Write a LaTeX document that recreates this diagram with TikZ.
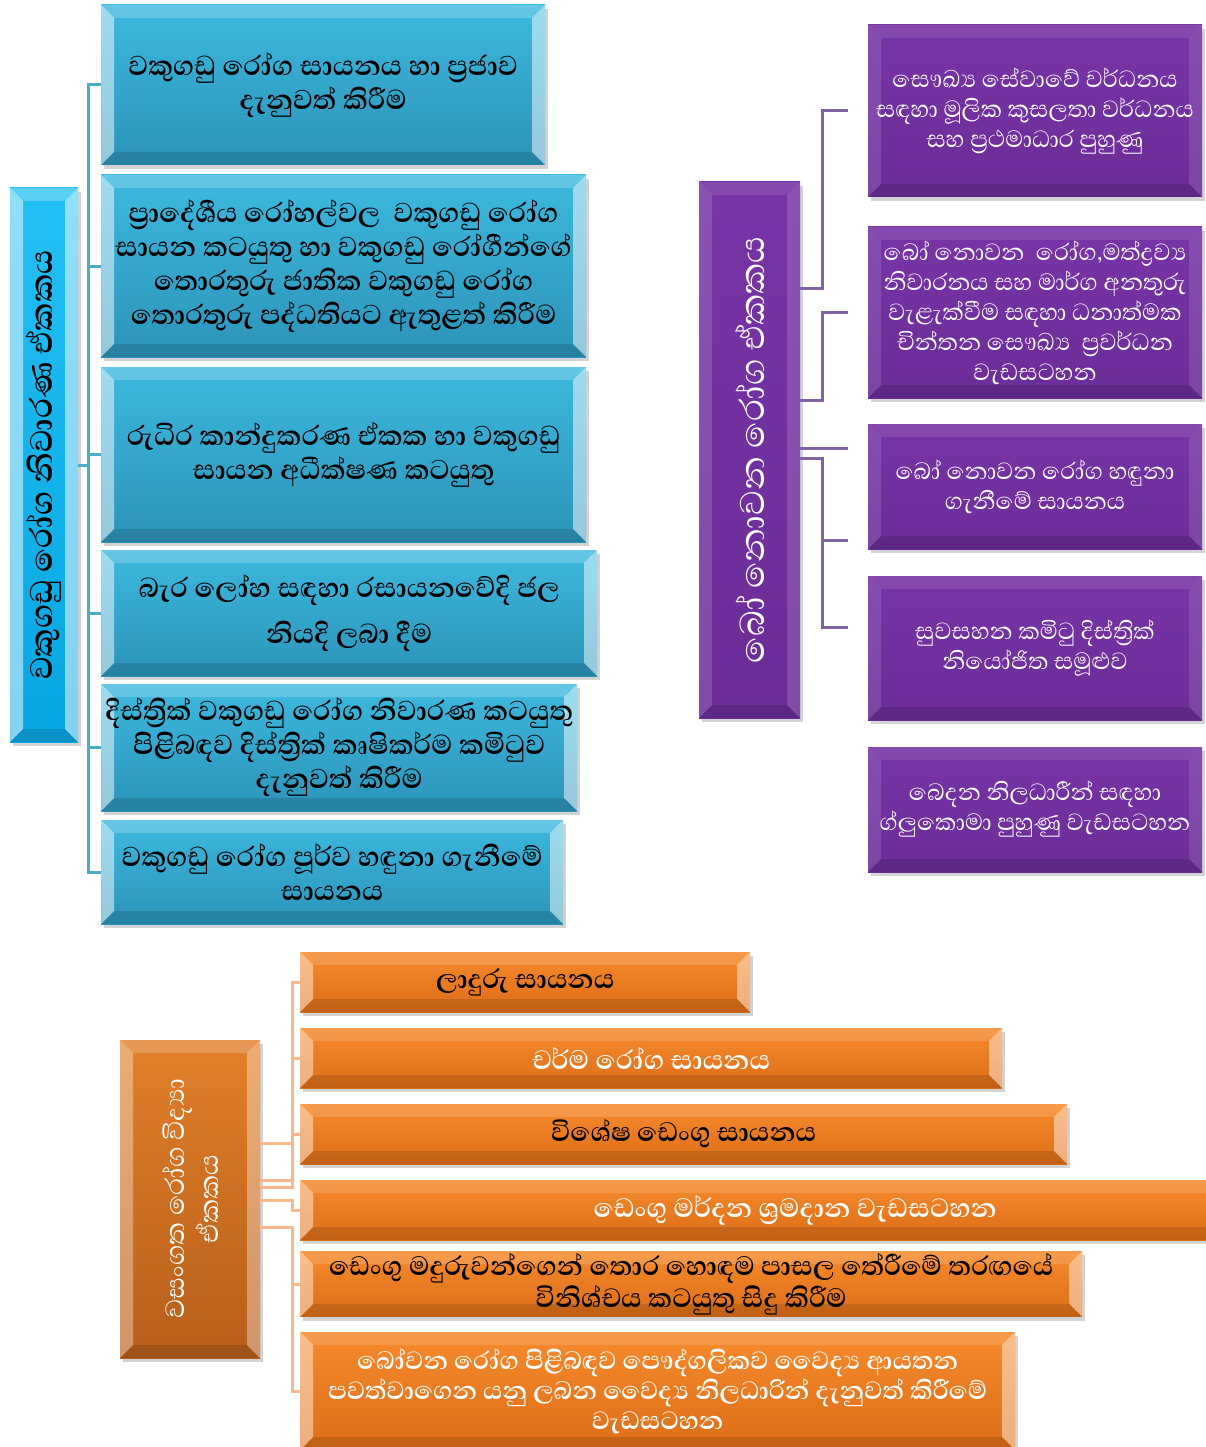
\documentclass[tikz,border=0pt]{standalone}
\usepackage{fontspec}
\newfontfamily\sinfont[Script=Sinhala]{Abhaya Libre}
\usetikzlibrary{shadows}

\definecolor{kidtop}{HTML}{3DB9DF}
\definecolor{kidbot}{HTML}{2C93B8}
\definecolor{kroottop}{HTML}{22C0F4}
\definecolor{krootbot}{HTML}{08A6E2}
\definecolor{klinecol}{HTML}{4BACC6}
\definecolor{nkidtop}{HTML}{7734A6}
\definecolor{nkidbot}{HTML}{6B2D98}
\definecolor{nlinecol}{HTML}{8064A2}
\definecolor{ekidtop}{HTML}{F68A2C}
\definecolor{ekidbot}{HTML}{DC6E18}
\definecolor{eroottop}{HTML}{E2802A}
\definecolor{erootbot}{HTML}{B65E1A}
\definecolor{elinecol}{HTML}{F9B78C}

\tikzset{
  bevel/.style 2 args={path picture={
    \fill[white, opacity=#2] (path picture bounding box.north west) -- (path picture bounding box.north east)
      -- ([shift={(-13pt,-13pt)}]path picture bounding box.north east) -- ([shift={(13pt,-13pt)}]path picture bounding box.north west) -- cycle;
    \fill[white, opacity=#1] (path picture bounding box.north west) -- (path picture bounding box.south west)
      -- ([shift={(13pt,13pt)}]path picture bounding box.south west) -- ([shift={(13pt,-13pt)}]path picture bounding box.north west) -- cycle;
    \fill[white, opacity=#1] (path picture bounding box.north east) -- (path picture bounding box.south east)
      -- ([shift={(-13pt,13pt)}]path picture bounding box.south east) -- ([shift={(-13pt,-13pt)}]path picture bounding box.north east) -- cycle;
    \fill[black, opacity=.12] (path picture bounding box.south west) -- (path picture bounding box.south east)
      -- ([shift={(-13pt,13pt)}]path picture bounding box.south east) -- ([shift={(13pt,13pt)}]path picture bounding box.south west) -- cycle;
  }},
}

\begin{document}
\begin{tikzpicture}[x=1pt, y=-1pt,
  base/.style={inner sep=2pt, align=center, drop shadow={shadow xshift=3pt, shadow yshift=-4pt, opacity=.35}},
  kidbox/.style={base, top color=kidtop, bottom color=kidbot, bevel={.5}{.2}, anchor=west,
    font=\sinfont\bfseries\fontsize{35}{34}\selectfont, text=black},
  kroot/.style={base, top color=kroottop, bottom color=krootbot, bevel={.5}{.25},
    minimum width=68pt, minimum height=554pt},
  nkidbox/.style={base, top color=nkidtop, bottom color=nkidbot, bevel={.12}{.1},
    minimum width=334pt, font=\sinfont\fontsize{30}{30}\selectfont, text=white},
  nroot/.style={base, top color=nkidtop, bottom color=nkidbot, bevel={.15}{.1},
    minimum width=101pt, minimum height=536pt},
  ekidbox/.style={base, top color=ekidtop, bottom color=ekidbot, bevel={.45}{.15}, anchor=west,
    minimum height=60pt, font=\sinfont\bfseries\fontsize{34}{32}\selectfont},
  eroot/.style={base, top color=eroottop, bottom color=erootbot, bevel={.35}{.2},
    minimum width=140pt, minimum height=318pt},
  rtext/.style={rotate=90, align=center},
  kconn/.style={draw=klinecol, line width=3pt},
  nconn/.style={draw=nlinecol, line width=3pt},
  econn/.style={draw=elinecol, line width=3pt}
]
\useasboundingbox (0,0) rectangle (1206,1447);

% kidney unit
\node[kroot, label={[rtext, font=\sinfont\bfseries\fontsize{40}{40}\selectfont, text=black]center:{වකුගඩු රෝග නිවාරණ ඒකකය}}] (kroot) at (44,465) {};
\node[kidbox, minimum width=444pt, minimum height=160pt] (kid1) at (101,85)
  {වකුගඩු රෝග සායනය හා ප්^^^^200dරජාව\\දැනුවත් කිරීම};
\node[kidbox, minimum width=485pt, minimum height=182pt] (kid2) at (101,266)
  {ප්^^^^200dරාදේශීය රෝහල්වල \ වකුගඩු රෝග\\සායන කටයුතු හා වකුගඩු රෝගීන්ගේ\\තොරතුරු ජාතික වකුගඩු රෝග\\තොරතුරු පද්ධතියට ඇතුළත් කිරීම};
\node[kidbox, minimum width=485pt, minimum height=175pt] (kid3) at (101,454.5)
  {රුධිර කාන්දුකරණ ඒකක හා වකුගඩු\\සායන අධීක්ෂණ කටයුතු};
\node[kidbox, minimum width=496pt, minimum height=126pt, font=\sinfont\bfseries\fontsize{35}{46}\selectfont] (kid4) at (101,613)
  {බැර ලෝහ සඳහා රසායනවේදි ජල\\නියදි ලබා දීම};
\node[kidbox, minimum width=476pt, minimum height=127pt] (kid5) at (101,747.5)
  {දිස්ත්^^^^200dරික් වකුගඩු රෝග නිවාරණ කටයුතු\\පිළිබඳව දිස්ත්^^^^200dරික් කෘෂිකර්ම කමිටුව\\දැනුවත් කිරීම};
\node[kidbox, minimum width=462pt, minimum height=104pt] (kid6) at (101,872)
  {වකුගඩු රෝග පූර්ව හඳුනා ගැනීමේ\\සායනය};
\foreach \k in {1,...,6}
  \draw[kconn] (kroot.east) -- ++(10,0) |- (kid\k.west);

% non-communicable disease unit
\node[nroot, label={[rtext, font=\sinfont\fontsize{44}{44}\selectfont, text=white]center:{බෝ නොවන රෝග ඒකකය}}] (nroot) at (749.5,450) {};
\node[nkidbox, minimum height=172pt] (nkid1) at (1035,111)
  {සෞඛ්^^^^200dය සේවාවේ වර්ධනය\\සඳහා මූලික කුසලතා වර්ධනය\\සහ ප්^^^^200dරථමාධාර පුහුණු};
\node[nkidbox, minimum height=171pt] (nkid2) at (1035,312.5)
  {බෝ නොවන \ රෝග,මත්ද්^^^^200dරව්^^^^200dය\\නිවාරනය සහ මාර්ග අනතුරු\\වැළැක්වීම සඳහා ධනාත්මක\\චින්තන සෞඛ්^^^^200dය \ ප්^^^^200dරවර්ධන\\වැඩසටහන};
\node[nkidbox, minimum height=125pt] (nkid3) at (1035,486.5)
  {බෝ නොවන රෝග හඳුනා\\ගැනීමේ සායනය};
\node[nkidbox, minimum height=144pt] (nkid4) at (1035,648)
  {සුවසහන කමිටු දිස්ත්^^^^200dරික්\\නියෝජිත සමූළුව};
\node[nkidbox, minimum height=125pt] (nkid5) at (1035,809.5)
  {බෙදන නිලධාරීන් සඳහා\\ග්ලුකොමා පුහුණු වැඩසටහන};
\draw[nconn] (nroot.east |- 0,288) -- ++(22,0) |- ([xshift=-20pt]nkid1.west);
\draw[nconn] (nroot.east |- 0,400) -- ++(22,0) |- ([xshift=-20pt]nkid2.west);
\draw[nconn] (nroot.east |- 0,448) -- ([xshift=-20pt]nkid3.west |- 0,448);
\draw[nconn] (nroot.east |- 0,458) -- ++(22,0) |- ([xshift=-20pt]nkid3.west |- 0,540);
\draw[nconn] (nroot.east |- 0,458) -- ++(22,0) |- ([xshift=-20pt]nkid4.west |- 0,627);

% epidemiology unit
\node[eroot, label={[rtext, font=\sinfont\fontsize{34}{34}\selectfont, text=white]center:{වසංගත රෝග විද්^^^^200dයා\\ඒකකය}}] (eroot) at (190,1199) {};
\node[ekidbox, minimum width=450pt, text=black] (ekid1) at (300,982) {ලාදුරු සායනය};
\node[ekidbox, minimum width=702pt, text=white] (ekid2) at (300,1058) {චර්ම රෝග සායනය};
\node[ekidbox, minimum width=767pt, text=black] (ekid3) at (300,1134) {විශේෂ ඩෙංගු සායනය};
\node[ekidbox, minimum width=990pt, text=white] (ekid4) at (300,1210) {ඩෙංගු මර්දන ශ්^^^^200dරමදාන වැඩසටහන};
\node[ekidbox, minimum width=782pt, text=black] (ekid5) at (300,1284)
  {ඩෙංගු මදුරුවන්ගෙන් තොර හොඳම පාසල තේරීමේ තරඟයේ\\විනිශ්චය කටයුතු සිදු කිරීම};
\node[ekidbox, minimum width=715pt, minimum height=118pt, text=white, font=\sinfont\bfseries\fontsize{32}{30}\selectfont] (ekid6) at (300,1391)
  {බෝවන රෝග පිළිබඳව පෞද්ගලිකව වෛද්^^^^200dය ආයතන\\පවත්වාගෙන යනු ලබන වෛද්^^^^200dය නිලධාරින් දැනුවත් කිරීමේ\\වැඩසටහන};
\draw[econn] (eroot.east |- 0,1180) -- ++(32,0) |- (ekid1.west);
\draw[econn] (eroot.east |- 0,1187) -- ++(32,0) |- (ekid2.west);
\draw[econn] (eroot.east |- 0,1143) -- ++(32,0) |- (ekid3.west);
\draw[econn] (eroot.east |- 0,1200) -- ++(32,0) |- (ekid4.west);
\draw[econn] (eroot.east |- 0,1227) -- ++(32,0) |- (ekid5.west);
\draw[econn] (eroot.east |- 0,1227) -- ++(32,0) |- (ekid6.west);
\end{tikzpicture}
\end{document}
